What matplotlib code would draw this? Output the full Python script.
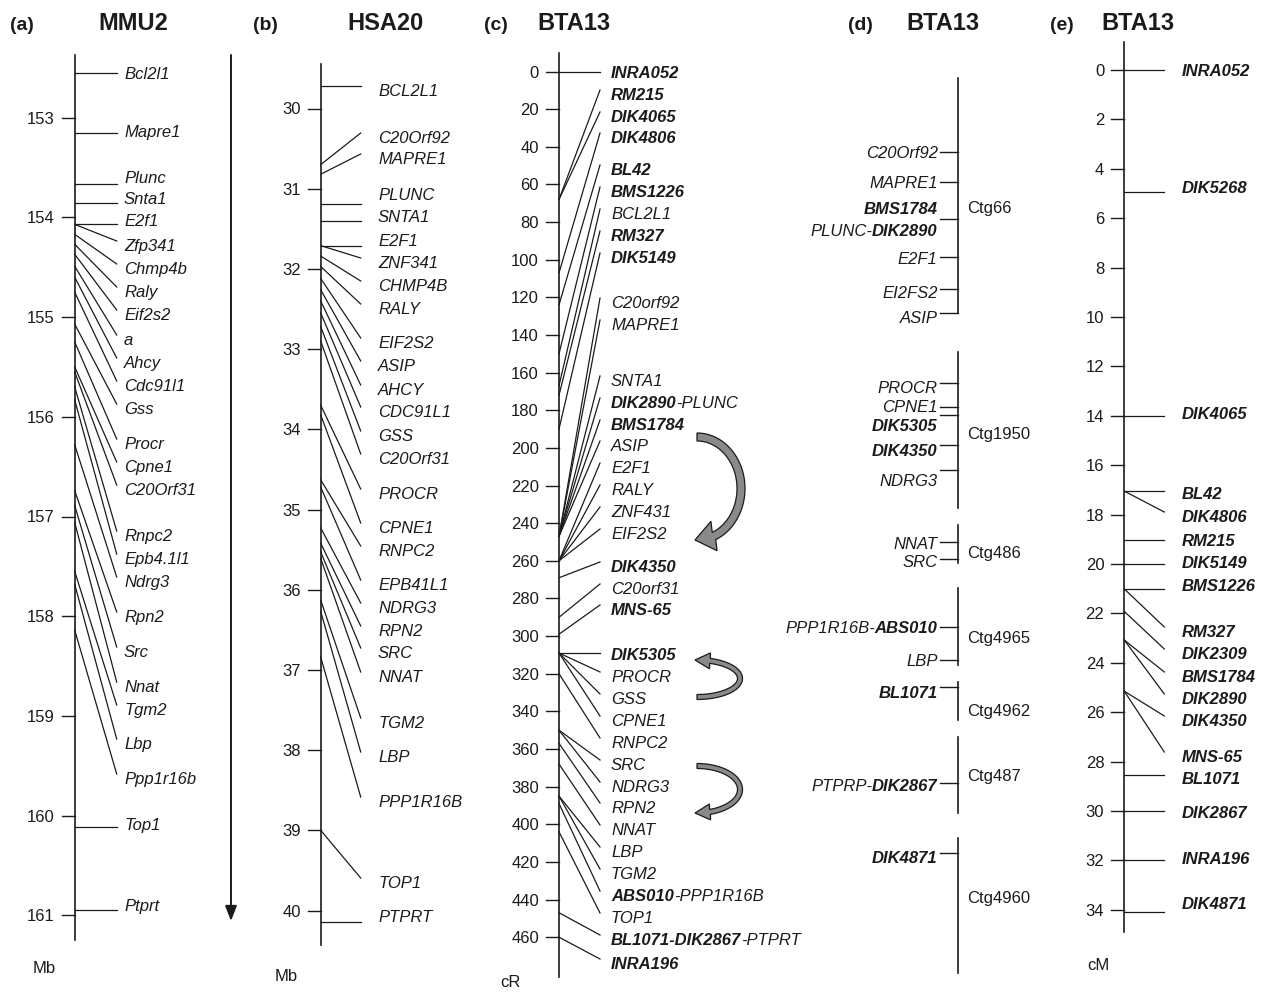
import matplotlib
matplotlib.use('Agg')
import numpy as np
import matplotlib.pyplot as plt
from matplotlib.patches import FancyArrowPatch, Polygon

plt.rcParams['font.family'] = ['Liberation Sans', 'DejaVu Sans']

W, H = 1269, 993
INK = '#1b1b1b'
FS = 12

# ---------------- data ----------------
# (a) mouse chromosome 2, Mb
MMU2_GENES = ['Bcl2l1', 'Mapre1', 'Plunc', 'Snta1', 'E2f1', 'Zfp341', 'Chmp4b',
              'Raly', 'Eif2s2', 'a', 'Ahcy', 'Cdc91l1', 'Gss', 'Procr', 'Cpne1',
              'C20Orf31', 'Rnpc2', 'Epb4.1l1', 'Ndrg3', 'Rpn2', 'Src', 'Nnat',
              'Tgm2', 'Lbp', 'Ppp1r16b', 'Top1', 'Ptprt']
MMU2_MB = [152.55, 153.15, 153.66, 153.86, 154.07, 154.07, 154.17,
           154.27, 154.37, 154.49, 154.60, 154.75, 155.07, 155.25, 155.50,
           155.55, 155.70, 155.83, 156.28, 156.74, 156.89, 157.06,
           157.55, 157.68, 158.14, 160.11, 160.95]
MMU2_TICKS = list(range(153, 162))

# (b) human chromosome 20, Mb
HSA20_GENES = ['BCL2L1', 'C20Orf92', 'MAPRE1', 'PLUNC', 'SNTA1', 'E2F1', 'ZNF341',
               'CHMP4B', 'RALY', 'EIF2S2', 'ASIP', 'AHCY', 'CDC91L1', 'GSS',
               'C20Orf31', 'PROCR', 'CPNE1', 'RNPC2', 'EPB41L1', 'NDRG3', 'RPN2',
               'SRC', 'NNAT', 'TGM2', 'LBP', 'PPP1R16B', 'TOP1', 'PTPRT']
HSA20_MB = [29.72, 30.70, 30.82, 31.19, 31.40, 31.71, 31.71,
            31.84, 31.97, 32.12, 32.26, 32.40, 32.55, 32.72,
            32.90, 33.70, 33.82, 34.63, 34.72, 35.23, 35.42,
            35.53, 35.61, 36.13, 36.27, 36.84, 39.00, 40.14]
HSA20_TICKS = list(range(30, 41))

# (c) cattle BTA13 RH map, cR  (*...* = microsatellite marker, bold)
RH_NAMES = ['*INRA052*', '*RM215*', '*DIK4065*', '*DIK4806*', '*BL42*', '*BMS1226*',
            'BCL2L1', '*RM327*', '*DIK5149*', 'C20orf92', 'MAPRE1', 'SNTA1',
            '*DIK2890*-PLUNC', '*BMS1784*', 'ASIP', 'E2F1', 'RALY', 'ZNF431', 'EIF2S2',
            '*DIK4350*', 'C20orf31', '*MNS-65*', '*DIK5305*', 'PROCR', 'GSS', 'CPNE1',
            'RNPC2', 'SRC', 'NDRG3', 'RPN2', 'NNAT', 'LBP', 'TGM2',
            '*ABS010*-PPP1R16B', 'TOP1', '*BL1071-DIK2867*-PTPRT', '*INRA196*']
RH_CR = [0, 68, 68, 107, 124, 150,
         167, 172, 190, 247, 247, 247,
         247, 247, 247, 260, 260, 260, 260,
         269, 290, 299, 309, 309, 309, 309,
         320, 350, 350, 357, 368, 385, 385,
         389, 404, 447, 460]
RH_TICKS = list(range(0, 461, 20))

# (d) BAC contigs
CTG_NAMES = ['Ctg66', 'Ctg1950', 'Ctg486', 'Ctg4965', 'Ctg4962', 'Ctg487', 'Ctg4960']
CTG_SPAN = [(78, 313), (352, 508), (525, 563), (588, 665), (682, 720), (737, 813), (838, 973)]
CTG_TICKS = [[152, 182, 219, 257, 289, 313],
             [383, 407, 415, 445, 470],
             [542, 559],
             [627, 660],
             [687],
             [783],
             [853]]
CTG_MARKERS = [['C20Orf92', 'MAPRE1', '*BMS1784*', 'PLUNC-*DIK2890*', 'E2F1', 'EI2FS2', 'ASIP'],
               ['PROCR', 'CPNE1', '*DIK5305*', '*DIK4350*', 'NDRG3'],
               ['NNAT', 'SRC'],
               ['PPP1R16B-*ABS010*', 'LBP'],
               ['*BL1071*'],
               ['PTPRP-*DIK2867*'],
               ['*DIK4871*']]

# (e) cattle BTA13 linkage map, cM
LINK_NAMES = ['INRA052', 'DIK5268', 'DIK4065', 'BL42', 'DIK4806', 'RM215', 'DIK5149',
              'BMS1226', 'RM327', 'DIK2309', 'BMS1784', 'DIK2890', 'DIK4350', 'MNS-65',
              'BL1071', 'DIK2867', 'INRA196', 'DIK4871']
LINK_CM = [0, 4.93, 14.0, 17.05, 17.05, 19.03, 20.0,
           21.01, 21.01, 21.92, 23.08, 23.08, 25.15, 25.15,
           28.55, 30.0, 32.0, 34.1]
LINK_TICKS = list(range(0, 35, 2))

# ---------------- layout (pixel rows of the label column) ----------------
MMU2_ROWS = [73, 131, 177, 198, 220, 245, 268, 291, 314, 339, 362, 385, 408, 443,
             466, 489, 535, 558, 581, 616, 651, 686, 709, 743, 778, 824, 905]
HSA20_ROWS = [90, 137, 158, 194, 216, 240, 262, 285, 308, 342, 365, 389, 411, 435,
              458, 493, 527, 550, 584, 607, 630, 652, 676, 722, 756, 801, 882, 916]
RH_ROWS = [72, 94, 116, 137, 169, 191, 213, 235, 257, 302, 324, 380, 402, 424, 445,
           467, 489, 511, 533, 566, 588, 609, 654, 676, 698, 720, 742, 764, 786, 807,
           829, 851, 873, 895, 917, 939, 963]
CTG_LABEL_ROWS = [[152, 182, 208, 230, 258, 292, 317],
                  [387, 406, 425, 450, 480],
                  [543, 561],
                  [627, 660],
                  [692],
                  [785],
                  [857]]
CTG_NAME_ROWS = [207, 433, 552, 637, 710, 775, 897]
LINK_ROWS = [70, 187, 413, 493, 516, 540, 562, 585, 631, 653, 676, 698, 720, 756,
             778, 812, 858, 903]

fig = plt.figure(figsize=(W / 100, H / 100), dpi=100)


def make_axes(v0, px0, v1, px1):
    """Transparent overlay axes: x in pixels, y in the panel's own units."""
    ax = fig.add_axes([0, 0, 1, 1])
    ax.set_xlim(0, W)
    k = (px1 - px0) / (v1 - v0)
    ax.set_ylim(v0 + (H - px0) / k, v0 - px0 / k)
    ax.set_axis_off()
    to_v = lambda px: v0 + (px - px0) / k
    to_px = lambda v: px0 + (v - v0) * k
    return ax, to_v, to_px


def draw_label(ax, x, y, label, ha='left', italic=True, size=FS):
    segs = [(s, i % 2 == 1) for i, s in enumerate(label.split('*')) if s]
    if ha == 'right':
        segs = segs[::-1]
    prev = None
    for s, bold in segs:
        kw = dict(fontsize=size, style='italic' if italic else 'normal',
                  weight='bold' if bold else 'normal', color=INK)
        if prev is None:
            prev = ax.text(x, y, s, ha=ha, va='baseline', **kw)
        else:
            prev = ax.annotate(s, xy=(1, 0) if ha == 'left' else (0, 0),
                               xycoords=prev, ha=ha, va='bottom', **kw)


def draw_map(ax, to_v, to_px, axis_x, span, ticks, names, pos, rows, end_x, text_x):
    ax.plot([axis_x, axis_x], [to_v(span[0]), to_v(span[1])], color=INK, lw=1.2)
    for t in ticks:
        ax.plot([axis_x - 13, axis_x], [t, t], color=INK, lw=1.0)
        ax.text(axis_x - 20, to_v(to_px(t) + 6), str(t), ha='right', va='baseline',
                fontsize=FS, color=INK)
    for name, p, row in zip(names, pos, rows):
        p_px = to_px(p)
        end_px = p_px if abs(p_px - row) < 10 else row - 4
        ax.plot([axis_x, end_x], [p, to_v(end_px)], color=INK, lw=0.9)
        draw_label(ax, text_x, to_v(row + 6), name)


def curved_arrow(ax, to_v, x0, y_tail, y_head, bulge, band, head_w, head_len):
    """Half-ellipse band from tail to head, bulging to the right, with a flat head."""
    cy = (y_tail + y_head) / 2
    ry = abs(y_tail - y_head) / 2
    s = np.sign(y_tail - y_head)
    t_end = np.pi - np.arcsin(min(head_len / bulge, 0.95))
    t = np.linspace(0, t_end, 80)
    cx_ = x0 + bulge * np.sin(t)
    cy_ = cy + s * ry * np.cos(t)
    tx, ty = bulge * np.cos(t), -s * ry * np.sin(t)
    nrm = np.hypot(tx, ty)
    nx, ny = -ty / nrm, tx / nrm
    outer = np.column_stack([cx_ + nx * band / 2, cy_ + ny * band / 2])
    inner = np.column_stack([cx_ - nx * band / 2, cy_ - ny * band / 2])
    pe = np.array([cx_[-1], cy_[-1]])
    tip = np.array([x0 - 2, y_head])
    d = tip - pe
    d /= np.hypot(*d)
    hn = np.array([-d[1], d[0]])
    head = [pe + hn * head_w / 2, tip, pe - hn * head_w / 2]
    # keep the head corners on the matching side of the band
    if np.dot(head[0] - pe, outer[-1] - pe) < 0:
        head = head[::-1]
    pts = np.vstack([outer, head, inner[::-1]])
    pts[:, 1] = [to_v(v) for v in pts[:, 1]]
    ax.add_patch(Polygon(pts, closed=True, facecolor='#8a8a8a', edgecolor=INK,
                         lw=0.9, joinstyle='miter'))


# (a) MMU2
ax_a, va_, pa_ = make_axes(153, 117.7, 161, 915.3)
draw_map(ax_a, va_, pa_, 74.7, (55, 940), MMU2_TICKS, MMU2_GENES, MMU2_MB,
         MMU2_ROWS, 116.7, 124)
ax_a.add_patch(FancyArrowPatch((231, va_(55)), (231, va_(921)),
                               arrowstyle='-|>,head_length=0.9,head_width=0.35',
                               mutation_scale=10, color=INK, lw=1.4, shrinkA=0, shrinkB=0))

# (b) HSA20
ax_b, vb_, pb_ = make_axes(30, 108.5, 40, 910.5)
draw_map(ax_b, vb_, pb_, 320.7, (64, 945), HSA20_TICKS, HSA20_GENES, HSA20_MB,
         HSA20_ROWS, 360.7, 378)

# (c) BTA13 RH map
ax_c, vc_, pc_ = make_axes(0, 71.5, 460, 937.2)
draw_map(ax_c, vc_, pc_, 559, (53, 977), RH_TICKS, RH_NAMES, RH_CR,
         RH_ROWS, 600, 611)

# order inversions between the maps
curved_arrow(ax_c, vc_, 697, 437, 540, 44, 8, 30, 17)
curved_arrow(ax_c, vc_, 697, 697, 660, 43, 5, 16, 13)
curved_arrow(ax_c, vc_, 697, 766, 813, 43, 5, 16, 13)

# (d) contigs, drawn straight in pixel rows
ax_d, vd_, pd_ = make_axes(0, 0, 1, 1)
ctg_x = 957.7
for name, span, ticks, markers, lrows, nrow in zip(CTG_NAMES, CTG_SPAN, CTG_TICKS,
                                                  CTG_MARKERS, CTG_LABEL_ROWS, CTG_NAME_ROWS):
    ax_d.plot([ctg_x, ctg_x], span, color=INK, lw=1.2)
    for t in ticks:
        ax_d.plot([ctg_x - 18, ctg_x], [t, t], color=INK, lw=1.0)
    for m, r in zip(markers, lrows):
        draw_label(ax_d, ctg_x - 20, r + 6, m, ha='right')
    ax_d.text(967, nrow + 6, name, ha='left', va='baseline', fontsize=FS, color=INK)

# (e) BTA13 linkage map
ax_e, ve_, pe_ = make_axes(0, 70, 34, 909.8)
draw_map(ax_e, ve_, pe_, 1124.3, (42, 932), LINK_TICKS, ['*' + n + '*' for n in LINK_NAMES],
         LINK_CM, LINK_ROWS, 1164.3, 1181.7)

# panel headers and unit captions
for tag, tx, title, ttx in [('(a)', 10, 'MMU2', 98), ('(b)', 253, 'HSA20', 347),
                            ('(c)', 484, 'BTA13', 537), ('(d)', 848, 'BTA13', 906),
                            ('(e)', 1050, 'BTA13', 1101)]:
    ax_d.text(tx, 30, tag, fontsize=14, weight='bold', ha='left', va='baseline', color=INK)
    ax_d.text(ttx, 30, title, fontsize=17, weight='bold', ha='left', va='baseline', color=INK)

for unit, ux, uy in [('Mb', 33, 973), ('Mb', 275, 981), ('cR', 500, 987), ('cM', 1087, 970)]:
    ax_d.text(ux, uy, unit, fontsize=FS, ha='left', va='baseline', color=INK)

fig.savefig('out.png', dpi=100, facecolor='white')
